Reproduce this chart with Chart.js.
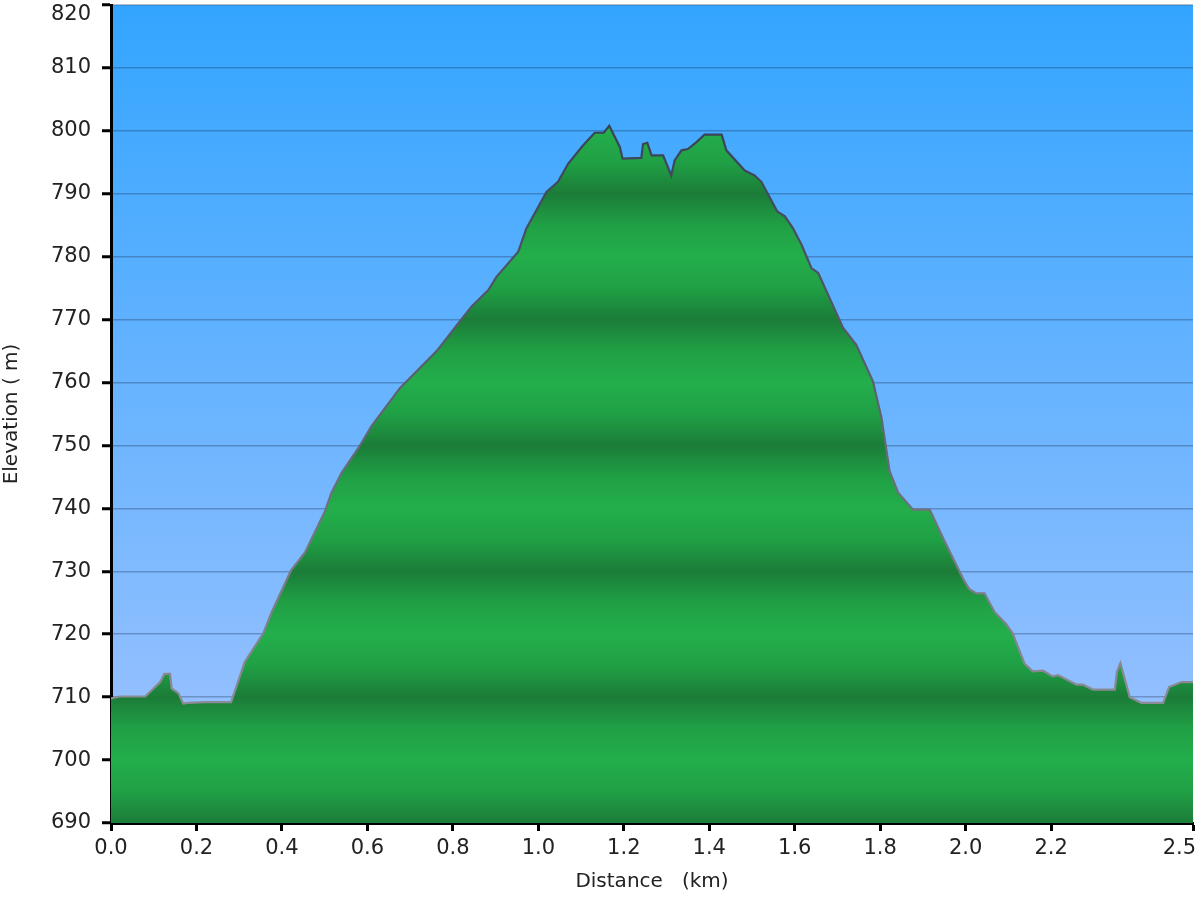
<!DOCTYPE html>
<html>
<head>
<meta charset="utf-8">
<script src="https://cdn.jsdelivr.net/npm/chart.js@4.4.1/dist/chart.umd.min.js"></script>
<style>
  html, body { margin: 0; padding: 0; background: #fff; }
  #wrap { width: 1200px; height: 900px; }
</style>
</head>
<body>
<div id="wrap"><canvas id="chart"></canvas></div>
<script>
// --- Datos del perfil ---
const distKm = [
  0.000, 0.021, 0.080, 0.115, 0.125, 0.138, 0.142, 0.158, 0.169, 0.181,
  0.220, 0.281, 0.313, 0.356, 0.376, 0.421, 0.454, 0.501, 0.516, 0.540,
  0.579, 0.610, 0.645, 0.676, 0.762, 0.816, 0.844, 0.883, 0.902, 0.953,
  0.972, 1.019, 1.046, 1.070, 1.105, 1.132, 1.153, 1.166, 1.191, 1.197,
  1.241, 1.245, 1.255, 1.265, 1.292, 1.311, 1.319, 1.335, 1.350, 1.370,
  1.389, 1.429, 1.440, 1.483, 1.506, 1.522, 1.559, 1.577, 1.596, 1.616,
  1.639, 1.655, 1.713, 1.744, 1.783, 1.803, 1.822, 1.842, 1.877, 1.916,
  1.947, 1.994, 2.008, 2.025, 2.044, 2.068, 2.095, 2.110, 2.138, 2.157,
  2.181, 2.204, 2.216, 2.259, 2.274, 2.298, 2.349, 2.354, 2.362, 2.384,
  2.411, 2.462, 2.476, 2.505, 2.532
];
const elevM = [
  709.8, 710.1, 710.1, 712.4, 713.7, 713.7, 711.4, 710.6, 709.0, 709.1,
  709.2, 709.2, 715.6, 720.1, 723.5, 730.1, 733.0, 739.6, 742.5, 745.7,
  749.6, 753.1, 756.3, 759.1, 765.0, 769.7, 772.1, 774.7, 776.8, 780.8,
  784.5, 790.3, 791.9, 794.8, 797.7, 799.7, 799.7, 800.8, 797.4, 795.6,
  795.7, 797.9, 798.1, 796.1, 796.1, 792.9, 795.3, 796.9, 797.1, 798.2,
  799.4, 799.4, 796.9, 793.7, 792.9, 791.9, 787.2, 786.4, 784.5, 781.9,
  778.2, 777.4, 768.7, 766.0, 760.2, 754.4, 745.9, 742.5, 739.8, 739.8,
  735.3, 728.8, 727.2, 726.5, 726.5, 723.5, 721.6, 720.1, 715.3, 714.1,
  714.2, 713.3, 713.5, 712.0, 712.0, 711.2, 711.2, 714.0, 715.4, 710.0,
  709.1, 709.1, 711.6, 712.4, 712.4
];

// --- Ejes ---
const xTicks = [0, 0.2, 0.4, 0.6, 0.8, 1.0, 1.2, 1.4, 1.6, 1.8, 2.0, 2.2, 2.5];
const xEnd = 2.532;
const yTicks = [690, 700, 710, 720, 730, 740, 750, 760, 770, 780, 790, 800, 810, 820];

const font = "'DejaVu Sans', Verdana, sans-serif";

// bandas verdes cada 10 m (oscuro en las líneas pares, claro en medio)
function bandas(context) {
  const chart = context.chart;
  const y = chart.scales.y;
  if (!chart.chartArea || !y) return "#1f9a44";
  const y0 = y.getPixelForValue(yTicks[0]);
  const y1 = y.getPixelForValue(yTicks[yTicks.length - 1]);
  const g = chart.ctx.createLinearGradient(0, y0, 0, y1);
  const span = yTicks[yTicks.length - 1] - yTicks[0];
  const paso = (yTicks[1] - yTicks[0]) / span;
  yTicks.forEach((v, i) => {
    const p = (v - yTicks[0]) / span;
    if (i % 2 === 0) {
      g.addColorStop(p, "#1b7c38");
    } else {
      g.addColorStop(Math.max(0, p - paso * 0.5), "#20a045");
      g.addColorStop(p, "#23ae4b");
      g.addColorStop(Math.min(1, p + paso * 0.5), "#20a045");
    }
  });
  return g;
}

function borde(context) {
  const a = context.chart.chartArea;
  if (!a) return "#555";
  const g = context.chart.ctx.createLinearGradient(0, a.top, 0, a.bottom);
  g.addColorStop(0, "#27364a");
  g.addColorStop(0.45, "#5a5f6e");
  g.addColorStop(1, "#9c9ca4");
  return g;
}

// fondo azul del área de trazado
const fondo = {
  id: "fondo",
  beforeDraw(chart) {
    const { ctx, chartArea: a } = chart;
    const g = ctx.createLinearGradient(0, a.top, 0, a.bottom);
    g.addColorStop(0, "#33a5ff");
    g.addColorStop(1, "#a3c4ff");
    ctx.save();
    ctx.fillStyle = g;
    ctx.fillRect(a.left, a.top, a.width, a.height);
    ctx.restore();
  }
};

const yMax = yTicks[yTicks.length - 1];

const ctx = document.getElementById("chart").getContext("2d");
new Chart(ctx, {
  type: "line",
  data: {
    datasets: [{
      data: distKm.map((d, i) => ({ x: d, y: elevM[i] })),
      fill: "start",
      backgroundColor: bandas,
      borderColor: borde,
      borderWidth: 2.2,
      pointRadius: 0,
      tension: 0
    }]
  },
  plugins: [fondo],
  options: {
    responsive: true,
    maintainAspectRatio: false,
    animation: false,
    layout: { padding: { top: 5, right: 7, left: 0, bottom: 0 } },
    plugins: { legend: { display: false }, tooltip: { enabled: false } },
    scales: {
      x: {
        type: "linear",
        min: 0,
        max: xEnd,
        z: 1,
        afterBuildTicks: s => { s.ticks = xTicks.concat([xEnd]).map(v => ({ value: v })); },
        afterFit: s => { s.height = 77; },
        border: { display: true, color: "#000", width: 3 },
        grid: {
          drawOnChartArea: false,
          drawTicks: true,
          tickLength: 8,
          tickWidth: 3,
          tickColor: c => (c.tick && c.tick.value === 2.5) ? "rgba(0,0,0,0)" : "#000"
        },
        ticks: {
          autoSkip: false,
          maxRotation: 0,
          padding: 5,
          color: "#222",
          font: { family: font, size: 21 },
          callback: v => v === xEnd ? "" : v.toFixed(1)
        },
        title: {
          display: true,
          text: "Distance   (km)",
          color: "#222",
          font: { family: font, size: 20 },
          padding: { top: 0, bottom: 6 }
        }
      },
      y: {
        min: yTicks[0],
        max: yMax,
        z: 1,
        afterBuildTicks: s => { s.ticks = yTicks.map(v => ({ value: v })); },
        afterFit: s => { s.width = 111; s.paddingTop = 0; s.paddingBottom = 0; },
        border: { display: true, color: "#000", width: 3 },
        grid: {
          color: "rgba(20,40,70,0.3)",
          lineWidth: 1.5,
          drawTicks: true,
          tickLength: 9,
          tickWidth: 3,
          tickColor: "#000"
        },
        ticks: {
          padding: 11,
          color: "#222",
          font: { family: font, size: 21, lineHeight: 0.9 },
          // la etiqueta superior baja un poco para que quepa
          callback: v => v === yMax ? ["", String(v)] : v
        },
        title: {
          display: true,
          text: "Elevation ( m)",
          color: "#222",
          font: { family: font, size: 20 },
          padding: { top: 0, bottom: 0 }
        }
      }
    }
  }
});
</script>
</body>
</html>
